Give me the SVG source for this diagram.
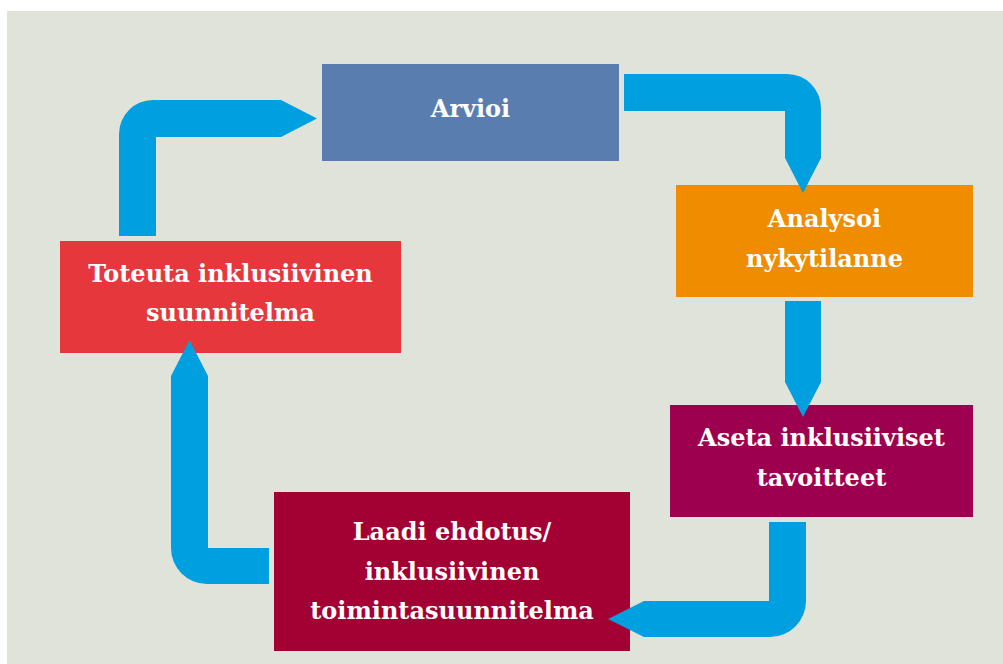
<svg xmlns="http://www.w3.org/2000/svg" width="1003" height="664" viewBox="0 0 1003 664">
<style>
.lbl{font-family:"DejaVu Serif","Liberation Serif",serif;font-weight:bold;font-size:24px;fill:#ffffff;text-anchor:middle}
.arr{fill:#009fe0}
</style>
<rect x="0" y="0" width="1003" height="664" fill="#ffffff"/>
<rect x="7" y="11" width="996" height="653" fill="#e0e3da"/>
<g id="n-arvioi">
<rect x="322" y="64" width="297" height="97" fill="#587dae"/>
<text class="lbl" x="470.5" y="117">Arvioi</text>
</g>
<g id="n-analysoi">
<rect x="676" y="185" width="297" height="112" fill="#f08c00"/>
<text class="lbl" x="824.5" y="227">Analysoi</text>
<text class="lbl" x="824.5" y="267">nykytilanne</text>
</g>
<g id="n-aseta">
<rect x="670" y="405" width="303" height="112" fill="#9e0050"/>
<text class="lbl" x="821.5" y="446">Aseta inklusiiviset</text>
<text class="lbl" x="821.5" y="486">tavoitteet</text>
</g>
<g id="n-laadi">
<rect x="274" y="492" width="356" height="159" fill="#a30033"/>
<text class="lbl" x="452" y="540">Laadi ehdotus/</text>
<text class="lbl" x="452" y="580">inklusiivinen</text>
<text class="lbl" x="452" y="619">toimintasuunnitelma</text>
</g>
<g id="n-toteuta">
<rect x="60" y="241" width="341" height="112" fill="#e5373c"/>
<text class="lbl" x="230.5" y="282">Toteuta inklusiivinen</text>
<text class="lbl" x="230.5" y="321">suunnitelma</text>
</g>
<g id="connectors">
<path class="arr" d="M119,236 L119,134 A34,34 0 0 1 153,100 L281,100 L317,118.5 L281,137 L156,137 L156,236 Z"/>
<path class="arr" d="M624,74 L787,74 A34,34 0 0 1 821,108 L821,158 L803,193 L785,158 L785,111 L624,111 Z"/>
<path class="arr" d="M785,301 L821,301 L821,382 L803,417 L785,382 Z"/>
<path class="arr" d="M769,522 L806,522 L806,601 A36,36 0 0 1 770,637 L644,637 L608,619 L644,601 L769,601 Z"/>
<path class="arr" d="M269,548 L208,548 L208,376 L189.5,340 L171,376 L171,548 A36,36 0 0 0 207,584 L269,584 Z"/>
</g>
</svg>
